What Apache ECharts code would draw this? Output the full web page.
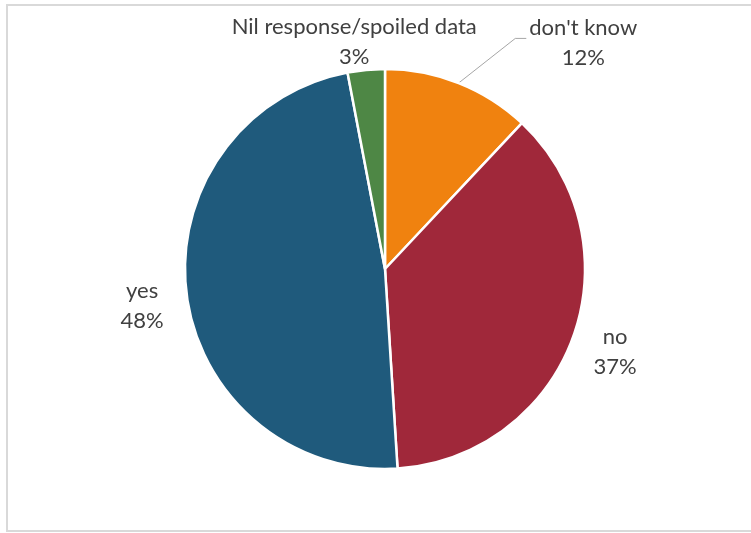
<!DOCTYPE html>
<html>
<head>
<meta charset="utf-8">
<script src="https://cdn.jsdelivr.net/npm/echarts@6/dist/echarts.min.js"></script>
<style>
html,body{margin:0;padding:0;background:#fff;}
#chart{width:751px;height:533px;}
</style>
</head>
<body>
<div id="chart"></div>
<script>
var categories = ["don't know", "no", "yes", "Nil response/spoiled data"];
var values = [12, 37, 48, 3];
var colors = ['#F0820F', '#A0283A', '#1F5A7C', '#4E8745'];
var showLine = [true, false, false, false];
// label styling offsets
var labelAlign = [null, null, null, 'center'];
var labelDx = [0, 0, -2, 0];
var labelDy = [4, 12, 11, -18];

var chart = echarts.init(document.getElementById('chart'), null, {renderer: 'canvas'});

var data = categories.map(function (c, i) {
  return {
    name: c,
    value: values[i],
    itemStyle: {color: colors[i]},
    labelLine: showLine[i] ? {show: true, length: 48, length2: 50} : {show: false, length: 10, length2: 8}
  };
});

chart.setOption({
  animation: false,
  backgroundColor: '#fff',
  graphic: [{
    type: 'rect',
    shape: {x: 7, y: 5, width: 800, height: 526},
    style: {fill: 'none', stroke: '#d9d9d9', lineWidth: 2},
    silent: true
  }],
  series: [{
    type: 'pie',
    center: [385, 269],
    radius: [0, 200],
    startAngle: 90,
    clockwise: true,
    avoidLabelOverlap: false,
    itemStyle: {borderColor: '#fff', borderWidth: 2.5},
    label: {
      show: true,
      position: 'outside',
      formatter: function (p) {
        return '{t|' + p.name + '}\n{t|' + p.value + '%}';
      },
      rich: {
        t: {fontFamily: 'Lato', fontSize: 22, color: '#404040', lineHeight: 30, align: 'center'}
      },
      distanceToLabelLine: 3
    },
    labelLine: {lineStyle: {color: '#a6a6a6', width: 1}},
    labelLayout: function (p) {
      var i = p.dataIndex;
      var o = {dx: labelDx[i], dy: labelDy[i]};
      if (labelAlign[i]) { o.align = labelAlign[i]; }
      if (showLine[i] && p.labelLinePoints) {
        var pts = p.labelLinePoints;
        var end = pts[pts.length - 1];
        o.labelLinePoints = [pts[0], [end[0] - 11, end[1]], end];
      }
      return o;
    },
    data: data
  }]
});
</script>
</body>
</html>
